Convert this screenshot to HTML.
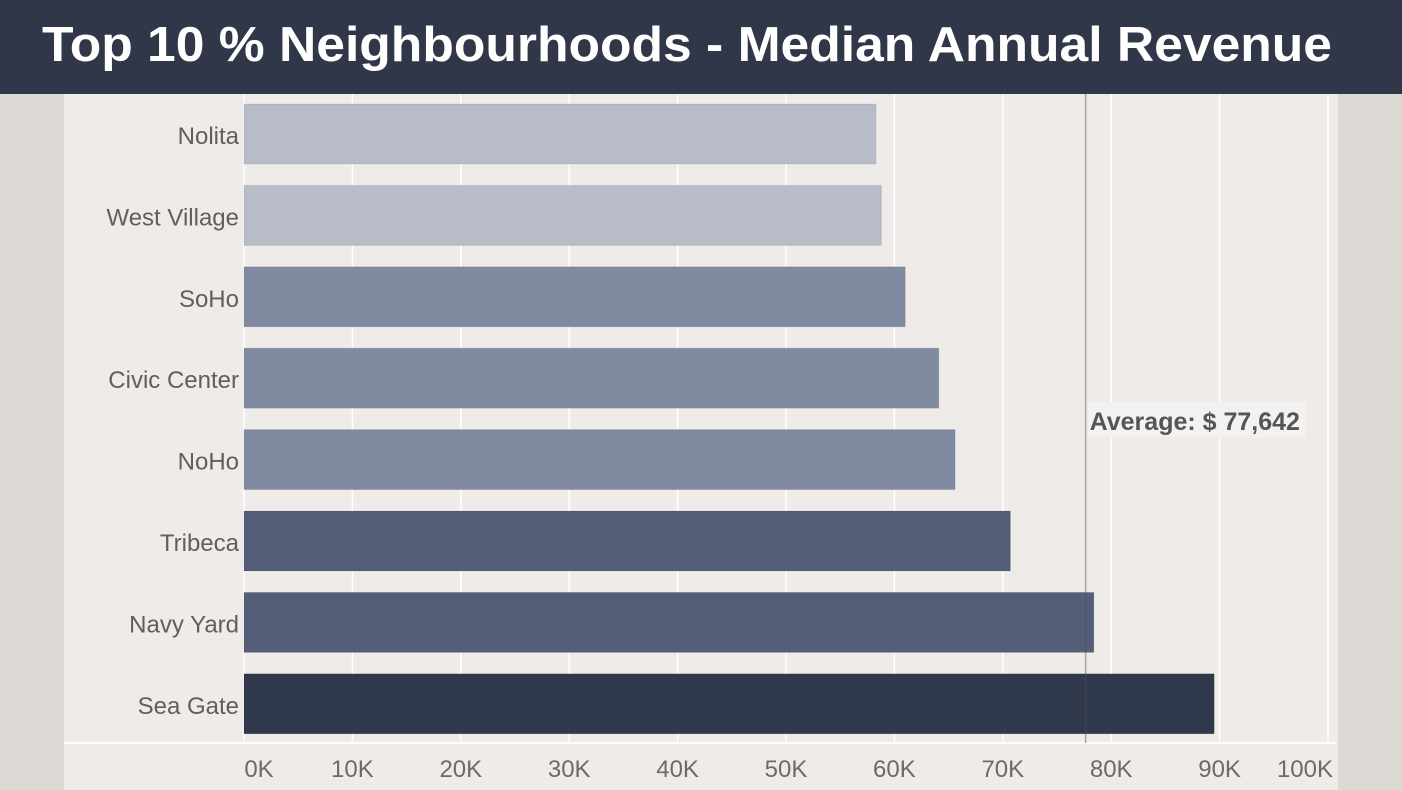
<!DOCTYPE html>
<html><head><meta charset="utf-8"><style>
html,body{margin:0;padding:0;width:1402px;height:790px;overflow:hidden;background:#dddad6}
svg{display:block;font-family:"Liberation Sans","DejaVu Sans",sans-serif}
</style></head><body>
<svg id="chart" width="1402" height="790">
<rect x="0" y="0" width="1402" height="790" fill="#dddad6"/>
<rect x="64" y="94" width="1274" height="696" fill="#efebe8"/>
<rect x="0" y="0" width="1402" height="94" fill="#2f3749"/>
<text x="42" y="61" font-size="49" font-weight="bold" fill="#ffffff" textLength="1290" lengthAdjust="spacingAndGlyphs">Top 10 % Neighbourhoods - Median Annual Revenue</text>
<g id="grid"></g><g id="bars"></g><g id="labels"></g>
</svg>
<script>
const categories=["Nolita","West Village","SoHo","Civic Center","NoHo","Tribeca","Navy Yard","Sea Gate"];
const values=[58300,58800,61000,64100,65600,70700,78400,89500];
const colors=["#b7bcc8","#b7bcc8","#808aa0","#808aa0","#808aa0","#555e78","#555e78","#30384c"];
const ticks=[0,10000,20000,30000,40000,50000,60000,70000,80000,90000,100000];
const tickLabels=["0K","10K","20K","30K","40K","50K","60K","70K","80K","90K","100K"];
const average=77642;
const NS="http://www.w3.org/2000/svg";
const x=v=>244+v*(1084/100000);
const y=i=>104+i*81.4;
const bh=60;
function mk(t,a,p){const e=document.createElementNS(NS,t);for(const k in a)e.setAttribute(k,a[k]);p.appendChild(e);return e;}
const grid=document.getElementById('grid'),bars=document.getElementById('bars'),labels=document.getElementById('labels');
ticks.forEach((t,i)=>{
 const l=mk('line',{x1:x(t),x2:x(t),y1:94,y2:743,stroke:'#ffffff','stroke-width':1.5},grid);
 
 
 const last=i==ticks.length-1;
 const tx=mk('text',{x:i==0?x(t)+15:(last?1333:x(t)),y:777,'font-size':24,fill:'#6b6b6b','text-anchor':last?'end':'middle'},labels);
 tx.textContent=tickLabels[i];
 
 
});
const ax=mk('line',{x1:64,x2:1336,y1:743,y2:743,stroke:'#ffffff','stroke-width':2},grid);


categories.forEach((c,i)=>{
 const r=mk('rect',{x:x(0),y:y(i),width:x(values[i])-x(0),height:bh,fill:colors[i],stroke:'rgba(0,0,0,0.08)'},bars);
 
 
 const t=mk('text',{x:239,y:y(i)+bh/2+10,'font-size':24,fill:'#5f5f5f','text-anchor':'end'},labels);
 t.textContent=c;
 
 
});
const al=mk('line',{x1:x(average),x2:x(average),y1:94,y2:743,stroke:'rgba(80,80,80,0.45)','stroke-width':1.5},bars);


const bg=mk('rect',{x:x(average)+2,y:402,width:218,height:35,fill:'#f4f2f0'},labels);


const at=mk('text',{x:x(average)+4,y:430,'font-size':25,'font-weight':'bold',fill:'#555555'},labels);
at.textContent='Average: $ '+average.toLocaleString('en-US');


</script>
</body></html>
